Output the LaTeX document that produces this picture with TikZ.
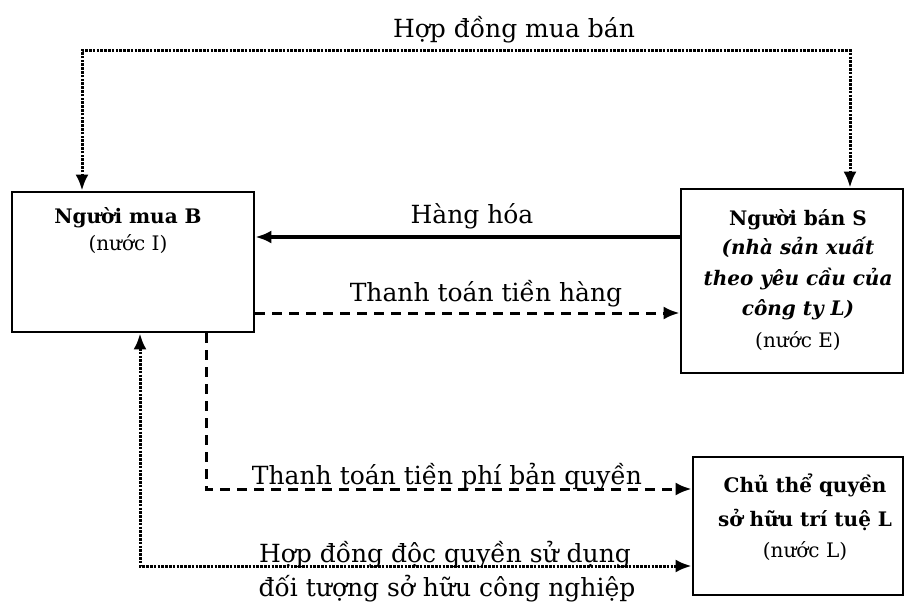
\documentclass[tikz,border=0pt]{standalone}
\usepackage{fontspec}
\setmainfont{DejaVu Serif}
\usetikzlibrary{arrows.meta}
\begin{document}
\begin{tikzpicture}[x=1pt,y=-1pt,
  box/.style={draw, line width=2.8pt, inner sep=0pt},
  boxtext/.style={anchor=base, font=\fontsize{20}{24}\selectfont\bfseries},
  boxplain/.style={anchor=base, font=\fontsize{20}{24}\selectfont},
  boxital/.style={anchor=base, font=\fontsize{20}{24}\selectfont\bfseries\itshape},
  lbl/.style={anchor=base, font=\fontsize{25}{30}\selectfont},
  hd/.style={-{Latex[length=16pt,width=13pt]}},
  hdboth/.style={{Latex[length=16pt,width=13pt]}-{Latex[length=16pt,width=13pt]}},
  solidline/.style={line width=3.6pt},
  dashline/.style={line width=3pt, dash pattern=on 10pt off 7pt},
  dotline/.style={line width=3pt, dash pattern=on 2.6pt off 1.2pt}]
\useasboundingbox (0,0) rectangle (907,603);
% boxes
\node[box, minimum width=242pt, minimum height=140pt] (B) at (133,262) {};
\node[box, minimum width=222pt, minimum height=184pt] (S) at (792,281) {};
\node[box, minimum width=210pt, minimum height=138pt] (L) at (798,526) {};
% box texts
\node[boxtext] (B1) at (128,223) {Người mua B};
\node[boxplain] (B2) at (128,250) {(nước I)};
\node[boxtext] (S1) at (798,225) {Người bán S};
\node[boxital] (S2) at (798,254) {(nhà sản xuất};
\node[boxital] (S3) at (798,285) {theo yêu cầu của};
\node[boxital] (S4) at (798,315) {công ty L)};
\node[boxplain] (S5) at (798,347) {(nước E)};
\node[boxtext] (L1) at (805,492) {Chủ thể quyền};
\node[boxtext] (L2) at (805,526) {sở hữu trí tuệ L};
\node[boxplain] (L3) at (805,557) {(nước L)};
% labels
\node[lbl] (t1) at (514,37) {Hợp đồng mua bán};
\node[lbl] (t2) at (472,223) {Hàng hóa};
\node[lbl] (t3) at (486,301) {Thanh toán tiền hàng};
\node[lbl] (t4) at (447,484) {Thanh toán tiền phí bản quyền};
\node[lbl] (t5) at (445,562) {Hợp đồng độc quyền sử dụng};
\node[lbl] (t6) at (447,596) {đối tượng sở hữu công nghiệp};
% helper coordinates
\coordinate (top1) at (82,50);
\coordinate (top2) at (850,50);
\coordinate (yh) at (0,237);
\coordinate (yt) at (0,313);
\coordinate (c1) at (206,489);
\coordinate (c2) at (140,566);
% connectors
\draw[dotline, hdboth] (B.north -| top1) -- (top1) -- (top2) -- (S.north -| top2);
\draw[solidline, hd] (S.west |- yh) -- (B.east |- yh);
\draw[dashline, hd] (B.east |- yt) -- (S.west |- yt);
\draw[dashline, hd] (B.south -| c1) -- (c1) -- (L.west |- c1);
\draw[dotline, hdboth] (B.south -| c2) -- (c2) -- (L.west |- c2);
\end{tikzpicture}
\end{document}
